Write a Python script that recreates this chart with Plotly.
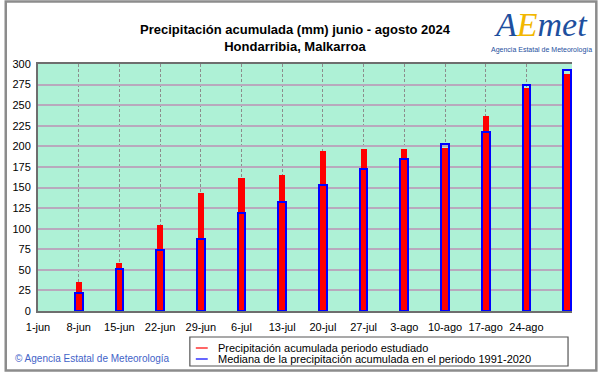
import pandas as pd
import plotly.graph_objects as go

# ---------------- data ----------------
bar_dates = ["2024-06-08", "2024-06-15", "2024-06-22", "2024-06-29", "2024-07-06",
             "2024-07-13", "2024-07-20", "2024-07-27", "2024-08-03", "2024-08-10",
             "2024-08-17", "2024-08-24", "2024-08-31"]
precip_2024 = [35.6, 58.7, 104.9, 143.3, 161.5, 165.2, 194.4, 196.4, 197.2, 198.0,
               236.9, 270.5, 287.5]
median_1991_2020 = [22.3, 50.6, 74.1, 87.9, 118.6, 132.4, 153.5, 172.5, 185.0, 203.2,
                    217.4, 274.4, 292.8]
tick_dates = ["2024-06-01", "2024-06-08", "2024-06-15", "2024-06-22", "2024-06-29",
              "2024-07-06", "2024-07-13", "2024-07-20", "2024-07-27", "2024-08-03",
              "2024-08-10", "2024-08-17", "2024-08-24"]
tick_labels = ["1-jun", "8-jun", "15-jun", "22-jun", "29-jun", "6-jul", "13-jul",
               "20-jul", "27-jul", "3-ago", "10-ago", "17-ago", "24-ago"]
y_ticks = list(range(0, 301, 25))

title_l1 = "Precipitación acumulada (mm) junio - agosto 2024"
title_l2 = "Hondarribia, Malkarroa"
legend_red = "Precipitación acumulada periodo estudiado"
legend_blue = "Mediana de la precipitación acumulada en el periodo 1991-2020"
copyright_txt = "© Agencia Estatal de Meteorología"

# ---------------- geometry ----------------
W, H = 601, 374
PL, PR, PT, PB = 34, 572, 64, 311
FONT = "Liberation Sans, Arial, sans-serif"


def px(x):
    return (x - PL) / (PR - PL)


def py(y):
    return (PB - y) / (PB - PT)


WEEK_MS = 7 * 24 * 3600 * 1000
x_start = pd.Timestamp("2024-06-01")
x_end = pd.Timestamp("2024-08-31") + pd.Timedelta(days=7 * 0.12)

fig = go.Figure()
fig.add_trace(go.Bar(
    x=bar_dates, y=precip_2024, name=legend_red, width=0.15 * WEEK_MS,
    marker=dict(color="#ff0000", line=dict(width=0)), showlegend=False))
fig.add_trace(go.Bar(
    x=bar_dates, y=median_1991_2020, name=legend_blue, width=0.19 * WEEK_MS,
    marker=dict(color="rgba(0,0,0,0)", line=dict(color="#0000ff", width=2)),
    showlegend=False))

shapes = []
# outer frame of the image
shapes.append(dict(type="rect", xref="paper", yref="paper",
                   x0=px(1.5), x1=px(596.5), y0=py(1.5), y1=py(370.5),
                   line=dict(color="#8c8c8c", width=2.5), layer="below"))
# legend box
shapes.append(dict(type="rect", xref="paper", yref="paper",
                   x0=px(187), x1=px(568), y0=py(337), y1=py(366),
                   line=dict(color="#555555", width=1.2)))
shapes.append(dict(type="line", xref="paper", yref="paper",
                   x0=px(193), x1=px(205), y0=py(348), y1=py(348),
                   line=dict(color="#ff0000", width=1.2)))
shapes.append(dict(type="line", xref="paper", yref="paper",
                   x0=px(193), x1=px(205), y0=py(359), y1=py(359),
                   line=dict(color="#0000ff", width=1.2)))

annotations = [
    dict(xref="paper", yref="paper", x=px(213), y=py(348), xanchor="left",
         yanchor="middle", text=legend_red, showarrow=False,
         font=dict(family=FONT, size=11, color="#000000")),
    dict(xref="paper", yref="paper", x=px(213), y=py(359), xanchor="left",
         yanchor="middle", text=legend_blue, showarrow=False,
         font=dict(family=FONT, size=11, color="#000000")),
    dict(xref="paper", yref="paper", x=px(9), y=py(358), xanchor="left",
         yanchor="middle", text=copyright_txt, showarrow=False,
         font=dict(family=FONT, size=10, color="#3f63c8")),
    # logo
    dict(xref="paper", yref="paper", x=px(541), y=py(25), xanchor="center",
         yanchor="middle", showarrow=False,
         text="<i><span style='color:#1e4f9e'>A</span><span style='color:#f2b700'>E</span>"
              "<span style='color:#1e4f9e'>met</span></i>",
         font=dict(family="Liberation Serif, serif", size=34, color="#1e4f9e")),
    dict(xref="paper", yref="paper", x=px(541), y=py(50), xanchor="center",
         yanchor="middle", showarrow=False, text="Agencia Estatal de Meteorología",
         font=dict(family=FONT, size=7, color="#1e4f9e")),
]

fig.update_layout(
    width=W, height=H,
    margin=dict(l=PL, r=W - PR, t=PT, b=H - PB, pad=0),
    paper_bgcolor="#ffffff",
    plot_bgcolor="#aef1d6",
    barmode="overlay",
    bargap=0,
    showlegend=False,
    font=dict(family=FONT, size=11, color="#000000"),
    title=dict(text="<b>" + title_l1 + "<br>" + title_l2 + "</b>",
               xref="container", yref="container", x=295 / W, y=1 - 34 / H,
               xanchor="center", yanchor="middle",
               font=dict(family=FONT, size=13, color="#000000")),
    xaxis=dict(type="date", range=[x_start, x_end],
               tickvals=tick_dates, ticktext=tick_labels,
               showgrid=True, gridcolor="#8c8c8c", gridwidth=1, griddash="3px,2px",
               showline=True, linecolor="#6e6e6e", linewidth=2, mirror=True,
               ticks="", ticklabelstandoff=5, zeroline=False,
               tickfont=dict(family=FONT, size=11, color="#000000")),
    yaxis=dict(range=[0, 300], tickvals=y_ticks,
               showgrid=True, gridcolor="#b8a9bd", gridwidth=2,
               showline=True, linecolor="#6e6e6e", linewidth=2,
               ticks="", ticklabelstandoff=3, zeroline=False,
               tickfont=dict(family=FONT, size=11, color="#000000")),
    shapes=shapes,
    annotations=annotations,
)

fig.write_html("out.html", config={"displayModeBar": False},
               post_script="document.body.style.margin='0px';")
